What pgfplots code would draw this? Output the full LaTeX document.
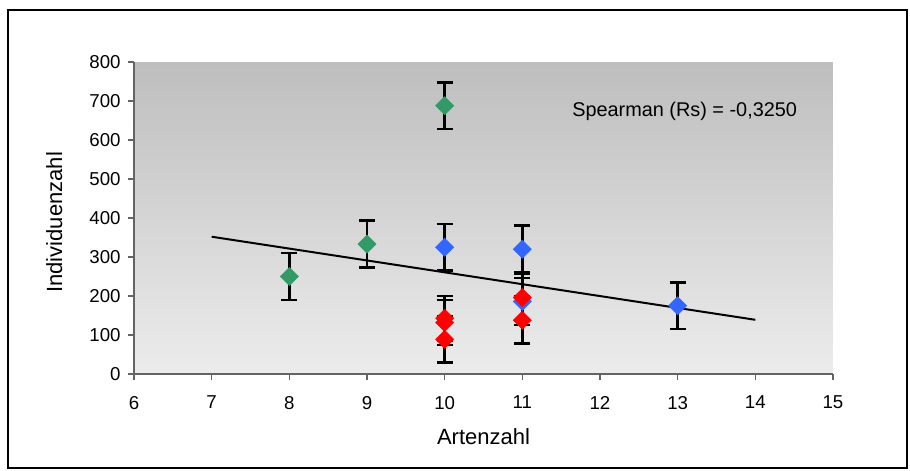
\documentclass[border=0pt]{standalone}
\usepackage{pgfplots}
\pgfplotsset{compat=1.18}
\usepackage{fontspec}
\setmainfont{Liberation Sans}
\definecolor{bgtop}{RGB}{190,190,190}
\definecolor{bgbot}{RGB}{236,236,236}
\definecolor{sgreen}{RGB}{51,153,102}
\definecolor{sblue}{RGB}{51,102,255}
\definecolor{sred}{RGB}{255,0,0}
\definecolor{axgray}{RGB}{100,100,100}
\pgfplotstableread{
x y e
8 250 60
9 333 60
10 688 60
}\green
\pgfplotstableread{
x y e
10 325 60
11 320 60
11 186 60
13 175 60
}\blue
\pgfplotstableread{
x y e
10 143 57
10 132 58
10 89 60
11 196 60
11 138 60
}\red
\begin{document}
\begin{tikzpicture}
\begin{scope}[x=0.75pt,y=-0.75pt]
\path[use as bounding box] (0,0) rectangle (910,471);
\draw[line width=1.2pt] (8,10) rectangle (907,468);
\end{scope}
\begin{axis}[
  at={(100.5pt,-280.5pt)}, anchor=south west,
  scale only axis, width=524.25pt, height=234pt,
  xmin=6, xmax=15, ymin=0, ymax=800,
  xtick={6,...,15}, ytick={0,100,...,800},
  axis x line*=bottom, axis y line*=left,
  axis line style={draw=axgray, line width=0.8pt},
  tick style={draw=axgray, line width=0.8pt},
  tick align=outside, major tick length=4.5pt,
  axis background/.style={top color=bgtop, bottom color=bgbot},
  /pgf/number format/assume math mode=true,
  ticklabel style={font=\fontsize{14}{16}\selectfont},
  xticklabel style={yshift=-8.5pt},
  yticklabel style={xshift=-2pt},
  xlabel={Artenzahl}, ylabel={Individuenzahl},
  every axis x label/.style={at={(axis description cs:0.5,-0.202)}, anchor=center, font=\fontsize{16.5}{18}\selectfont},
  every axis y label/.style={at={(axis description cs:-0.114,0.486)}, anchor=center, rotate=90, font=\fontsize{16.5}{18}\selectfont},
  clip=false,
  eb/.style={draw=none, mark=none, forget plot,
    error bars/.cd, y dir=both, y explicit,
    error bar style={black, line width=2pt},
    error mark options={rotate=90, mark size=6pt, black, line width=2pt}},
  dm/.style={only marks, mark=square*, mark size=4.8pt, mark options={rotate=45, draw=#1, fill=#1}},
]
\addplot[eb] table[x=x, y=y, y error=e] {\green};
\addplot[eb] table[x=x, y=y, y error=e] {\blue};
\addplot[eb] table[x=x, y=y, y error=e] {\red};
\addplot[dm=sgreen] table[x=x, y=y] {\green};
\addplot[dm=sblue] table[x=x, y=y] {\blue};
\addplot[dm=sred] table[x=x, y=y] {\red};
\addplot[black, line width=1.5pt] coordinates {(7,352) (14,139)};
\node[anchor=west, font=\fontsize{14.9}{16}\selectfont, inner sep=0pt] at (axis cs:11.64,674) {Spearman (Rs) = -0,3250};
\end{axis}
\end{tikzpicture}
\end{document}
